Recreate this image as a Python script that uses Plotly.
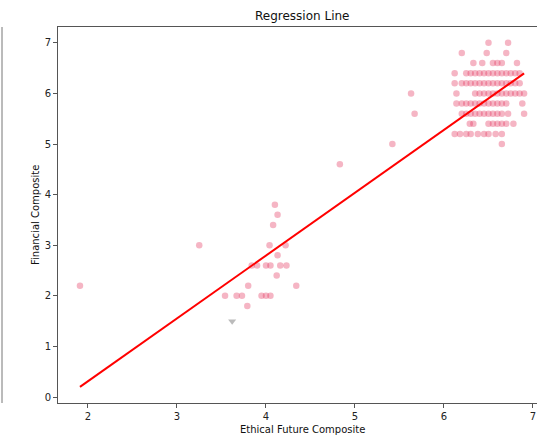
import plotly.graph_objects as go

# Survey composites (pink points)
ethical_future = [
    # lower/middle group
    1.91, 3.25, 4.10, 4.13, 4.08, 4.04, 4.22, 4.13,
    3.84, 3.90, 4.00, 4.05, 4.16, 4.23,
    4.12, 3.80, 4.34,
    3.54, 3.67, 3.73, 3.95, 4.00, 4.05,
    3.79,
    4.83, 5.42, 5.63, 5.67,
    # upper group, row 7.0
    6.50, 6.72,
    # row 6.8
    6.20, 6.48, 6.70,
    # row 6.6
    6.33, 6.43, 6.55, 6.60, 6.65, 6.82,
    # row 6.4
    6.12, 6.25, 6.30, 6.35, 6.40, 6.45, 6.50, 6.55, 6.60, 6.65, 6.70, 6.75, 6.80, 6.85,
    # row 6.2
    6.12, 6.20, 6.25, 6.30, 6.35, 6.40, 6.45, 6.50, 6.55, 6.60, 6.65, 6.70, 6.75, 6.80, 6.85,
    # row 6.0
    6.14, 6.35, 6.40, 6.45, 6.50, 6.55, 6.60, 6.65, 6.70, 6.75, 6.80, 6.85, 6.90,
    # row 5.8
    6.14, 6.20, 6.25, 6.30, 6.35, 6.40, 6.45, 6.50, 6.55, 6.60, 6.65, 6.70, 6.88,
    # row 5.6
    6.20, 6.25, 6.30, 6.35, 6.40, 6.45, 6.50, 6.55, 6.60, 6.65, 6.72, 6.90,
    # row 5.4
    6.29, 6.33, 6.50, 6.55, 6.60, 6.65, 6.70, 6.78,
    # row 5.2
    6.12, 6.18, 6.25, 6.30, 6.38, 6.45, 6.50, 6.58, 6.65,
    # row 5.0
    6.65,
]
financial = [
    2.2, 3.0, 3.8, 3.6, 3.4, 3.0, 3.0, 2.8,
    2.6, 2.6, 2.6, 2.6, 2.6, 2.6,
    2.4, 2.2, 2.2,
    2.0, 2.0, 2.0, 2.0, 2.0, 2.0,
    1.8,
    4.6, 5.0, 6.0, 5.6,
    7.0, 7.0,
    6.8, 6.8, 6.8,
    6.6, 6.6, 6.6, 6.6, 6.6, 6.6,
    6.4, 6.4, 6.4, 6.4, 6.4, 6.4, 6.4, 6.4, 6.4, 6.4, 6.4, 6.4, 6.4, 6.4,
    6.2, 6.2, 6.2, 6.2, 6.2, 6.2, 6.2, 6.2, 6.2, 6.2, 6.2, 6.2, 6.2, 6.2, 6.2,
    6.0, 6.0, 6.0, 6.0, 6.0, 6.0, 6.0, 6.0, 6.0, 6.0, 6.0, 6.0, 6.0,
    5.8, 5.8, 5.8, 5.8, 5.8, 5.8, 5.8, 5.8, 5.8, 5.8, 5.8, 5.8, 5.8,
    5.6, 5.6, 5.6, 5.6, 5.6, 5.6, 5.6, 5.6, 5.6, 5.6, 5.6, 5.6,
    5.4, 5.4, 5.4, 5.4, 5.4, 5.4, 5.4, 5.4,
    5.2, 5.2, 5.2, 5.2, 5.2, 5.2, 5.2, 5.2, 5.2,
    5.0,
]

# Single grey observation
grey_x = [3.62]
grey_y = [1.5]

# Fitted regression line
slope = 1.242
intercept = -2.172
line_x = [min(ethical_future), max(ethical_future)]
line_y = [slope * v + intercept for v in line_x]

x_ticks = [2, 3, 4, 5, 6, 7]
y_ticks = [0, 1, 2, 3, 4, 5, 6, 7]

W, H = 537, 438
ML, MT, MB, MR = 58, 27, 35, 0
plot_w = W - ML - MR

fig = go.Figure()
fig.add_trace(go.Scatter(
    x=ethical_future, y=financial, mode="markers",
    marker=dict(symbol="circle", size=6.5, color="rgba(228,50,92,0.36)", line=dict(width=0)),
    showlegend=False, hoverinfo="skip",
))
fig.add_trace(go.Scatter(
    x=grey_x, y=grey_y, mode="markers",
    marker=dict(symbol="triangle-down", size=7, color="rgba(120,120,120,0.5)", line=dict(width=0)),
    showlegend=False, hoverinfo="skip",
))
fig.add_trace(go.Scatter(
    x=line_x, y=line_y, mode="lines",
    line=dict(color="#ff0000", width=2),
    showlegend=False, hoverinfo="skip",
))

font = "DejaVu Sans, sans-serif"
axis_common = dict(
    showgrid=False, zeroline=False, showline=True, linecolor="#555555", linewidth=1,
    ticks="outside", ticklen=4, tickcolor="#555555", tickwidth=1,
    tickfont=dict(family=font, size=10, color="#222222"),
)

fig.update_layout(
    width=W, height=H,
    margin=dict(l=ML, r=MR, t=MT, b=MB, pad=0),
    paper_bgcolor="white", plot_bgcolor="white",
    xaxis=dict(range=[1.663, 7.045], tickvals=x_ticks, mirror=True, **axis_common),
    yaxis=dict(range=[-0.118, 7.313], tickvals=y_ticks, **axis_common),
    shapes=[
        # right edge of the neighbouring panel
        dict(type="line", xref="paper", yref="paper",
             x0=(2 - ML) / plot_w, x1=(2 - ML) / plot_w, y0=0, y1=1,
             line=dict(color="#777777", width=1)),
    ],
    annotations=[
        dict(text="Regression Line", xref="paper", yref="paper",
             x=(302 - ML) / plot_w, y=1, yshift=11, xanchor="center", yanchor="middle",
             showarrow=False, font=dict(family=font, size=12, color="#111111")),
        dict(text="Ethical Future Composite", xref="paper", yref="paper",
             x=(302 - ML) / plot_w, y=0, yshift=-26, xanchor="center", yanchor="middle",
             showarrow=False, font=dict(family=font, size=10, color="#111111")),
        dict(text="Financial Composite", xref="paper", yref="paper",
             x=(35 - ML) / plot_w, y=0.5, xanchor="center", yanchor="middle", textangle=-90,
             showarrow=False, font=dict(family=font, size=10, color="#111111")),
    ],
)

fig.write_html("out.html")
